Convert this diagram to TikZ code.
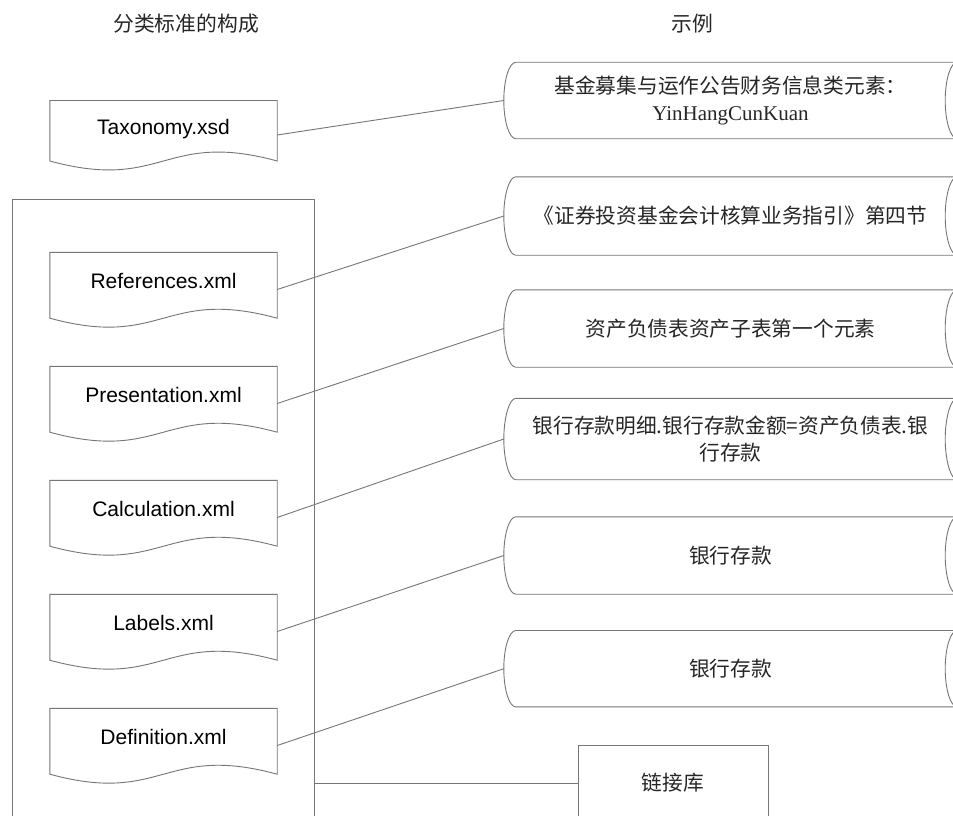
\documentclass[tikz,border=0pt]{standalone}
\usepackage{fontspec}
\setmainfont{Liberation Serif}
\newfontfamily\cjk{Noto Sans CJK SC}
\newfontfamily\arial{Liberation Sans}
\usepackage{tikz}
\usetikzlibrary{calc}

\definecolor{linegray}{RGB}{118,118,118}
\definecolor{inkgray}{RGB}{38,38,38}

% outline of a document node: flat top, wavy bottom
\newcommand{\docrim}[1]{%
  \draw[rim] (#1.north west) -- (#1.north east) -- ([yshift=8.5pt]#1.south east)
    .. controls ([yshift=39.5pt]#1.south) and ([yshift=-22.5pt]#1.south) .. ([yshift=8.5pt]#1.south west) -- cycle;}
% outline of a stored data node: curved left and right ends
\newcommand{\storerim}[1]{%
  \draw[rim] ([xshift=12pt]#1.north west) -- (#1.north east)
    .. controls ([xshift=-6.6pt]#1.north east) and ([xshift=-12pt,yshift=21pt]#1.east) .. ([xshift=-12pt]#1.east)
    .. controls ([xshift=-12pt,yshift=-21pt]#1.east) and ([xshift=-6.6pt]#1.south east) .. (#1.south east)
    -- ([xshift=12pt]#1.south west)
    .. controls ([xshift=5.4pt]#1.south west) and ([yshift=-21pt]#1.west) .. (#1.west)
    .. controls ([yshift=21pt]#1.west) and ([xshift=5.4pt]#1.north west) .. cycle;}

\begin{document}
\begin{tikzpicture}[x=1pt, y=-1pt,
    rim/.style={draw=linegray, line width=0.9pt},
    wire/.style={draw=linegray, line width=0.9pt},
    head/.style={font=\cjk\fontsize{20.8}{25}\selectfont, text=inkgray},
    docnode/.style={minimum width=227pt, minimum height=74pt, inner sep=0pt,
        text height=16pt, text depth=18pt, font=\arial\fontsize{21}{25}\selectfont},
    storenode/.style={minimum width=453pt, inner sep=0pt, align=center,
        text=inkgray, font=\cjk\fontsize{20.7}{27}\selectfont},
    linkbox/.style={rim, minimum width=190pt, minimum height=76pt, inner sep=0pt,
        text=inkgray, font=\cjk\fontsize{20.7}{25}\selectfont}]
  \useasboundingbox (0,0) rectangle (953,816);
  \clip (0,0) rectangle (953,816);
  \fill[white] (0,0) rectangle (953,816);

  % column titles
  \node[head] (stdhead) at (186,24) {分类标准的构成};
  \node[head] (exhead) at (692,24) {示例};

  % taxonomy files
  \node[docnode, minimum height=68.6pt] (tax) at (163.5,135) {Taxonomy.xsd};
  \docrim{tax}
  \node[rim, minimum width=302pt, minimum height=630pt] (linkbase) at (163,514) {};
  \node[docnode] (ref) at (163.5,289.5) {References.xml};
  \docrim{ref}
  \node[docnode] (pre) at (163.5,403.5) {Presentation.xml};
  \docrim{pre}
  \node[docnode] (cal) at (163.5,517.5) {Calculation.xml};
  \docrim{cal}
  \node[docnode] (lab) at (163.5,631.5) {Labels.xml};
  \docrim{lab}
  \node[docnode] (def) at (163.5,745.5) {Definition.xml};
  \docrim{def}

  % examples
  \node[storenode, minimum height=76pt] (extax) at (730.5,100.5) {基金募集与运作公告财务信息类元素：\\{\rmfamily\fontsize{21}{27}\selectfont YinHangCunKuan}};
  \storerim{extax}
  \node[storenode, minimum height=78pt] (exref) at (730.5,216) {《证券投资基金会计核算业务指引》第四节};
  \storerim{exref}
  \node[storenode, minimum height=77pt] (expre) at (730.5,328.5) {资产负债表资产子表第一个元素};
  \storerim{expre}
  \node[storenode, minimum height=81pt] (excal) at (730.5,439) {银行存款明细.银行存款金额=资产负债表.银\\行存款};
  \storerim{excal}
  \node[storenode, minimum height=77pt] (exlab) at (730.5,555.5) {银行存款};
  \storerim{exlab}
  \node[storenode, minimum height=76pt] (exdef) at (730.5,668.7) {银行存款};
  \storerim{exdef}

  \node[linkbox] (lib) at (673,783) {链接库};

  % connectors
  \draw[wire] (tax.east) -- (extax.west);
  \draw[wire] (ref.east) -- (exref.west);
  \draw[wire] (pre.east) -- (expre.west);
  \draw[wire] (cal.east) -- (excal.west);
  \draw[wire] (lab.east) -- (exlab.west);
  \draw[wire] (def.east) -- (exdef.west);
  \draw[wire] (lib.west -| linkbase.east) -- (lib.west);
\end{tikzpicture}
\end{document}
